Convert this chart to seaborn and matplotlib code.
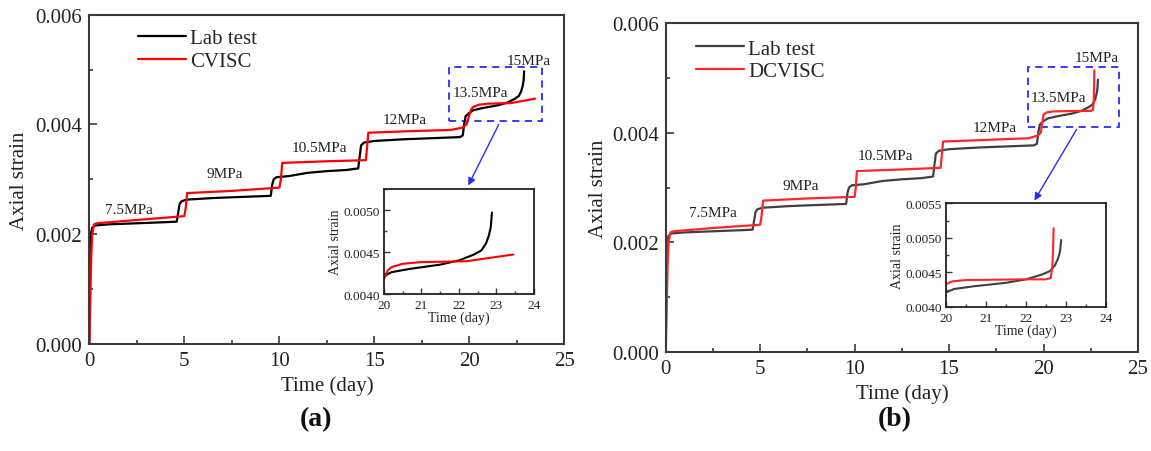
import numpy as np
import pandas as pd
import matplotlib
matplotlib.use("Agg")
import matplotlib.pyplot as plt
import seaborn as sns
from matplotlib.ticker import MultipleLocator, FormatStrFormatter
from matplotlib.patches import Rectangle, FancyArrowPatch

# ---------------- data ----------------
lab_time = [0, 0.02, 0.05, 0.08, 0.15, 0.3, 1.0, 2.5, 4.0, 4.6, 4.68, 4.75, 4.85, 5.1,
            6.5, 8.0, 9.55, 9.62, 9.7, 9.85, 10.5, 11.5, 12.5, 13.5, 14.15, 14.22, 14.3,
            14.45, 15.0, 16.5, 18.0, 19.5, 19.65, 19.72, 19.8, 19.95, 20.2, 20.7, 21.5,
            22.0, 22.4, 22.6, 22.72, 22.8, 22.85, 22.88]
lab_strain = [0, 0.0008, 0.0016, 0.0020, 0.00212, 0.00216, 0.00218, 0.0022, 0.00222,
              0.00223, 0.0024, 0.00255, 0.0026, 0.00263, 0.00266, 0.00268, 0.0027, 0.0029,
              0.0030, 0.00304, 0.00306, 0.00312, 0.00315, 0.00317, 0.0032, 0.0034, 0.00362,
              0.00367, 0.0037, 0.00373, 0.00375, 0.00377, 0.0038, 0.0040, 0.00415, 0.0042,
              0.00426, 0.0043, 0.00435, 0.0044, 0.00447, 0.00452, 0.0046, 0.0047, 0.0048,
              0.00497]

cvisc_time = [0, 0.05, 0.1, 0.15, 0.25, 0.4, 2.5, 5.0, 5.08, 5.15, 7.5, 10.0, 10.08, 10.15,
              12.5, 14.55, 14.62, 14.68, 17.0, 19.0, 19.6, 19.85, 20.0, 20.1, 20.2, 20.5,
              21.0, 22.2, 22.5, 23.45]
cvisc_strain = [0, 0.0008, 0.0016, 0.0020, 0.00218, 0.0022, 0.00226, 0.00233, 0.0025,
                0.00275, 0.00279, 0.00285, 0.0030, 0.0033, 0.00333, 0.00335, 0.0036,
                0.00385, 0.00388, 0.0039, 0.00394, 0.0040, 0.00418, 0.00428, 0.00432,
                0.00436, 0.00438, 0.00439, 0.00441, 0.00447]

dcvisc_time = [0, 0.05, 0.1, 0.15, 0.25, 0.4, 2.5, 5.0, 5.08, 5.15, 7.5, 10.0, 10.06, 10.12,
               12.5, 14.55, 14.62, 14.68, 17.0, 19.2, 19.7, 19.85, 20.0, 20.15, 20.5, 22.0,
               22.5, 22.62, 22.66, 22.68, 22.69]
dcvisc_strain = [0, 0.0008, 0.0016, 0.0020, 0.00218, 0.0022, 0.00226, 0.00232, 0.0025,
                 0.00276, 0.0028, 0.00283, 0.0030, 0.0033, 0.00333, 0.00336, 0.0036,
                 0.00384, 0.00387, 0.0039, 0.00395, 0.0040, 0.00433, 0.00437, 0.00439,
                 0.0044, 0.0044, 0.00442, 0.0046, 0.0049, 0.00514]

stress_labels = ["7.5MPa", "9MPa", "10.5MPa", "12MPa", "13.5MPa", "15MPa"]
series_a = ["Lab test", "CVISC"]
series_b = ["Lab test", "DCVISC"]

# ---------------- style ----------------
sns.set_theme(style="white")
plt.rcParams["font.family"] = ["Liberation Serif", "DejaVu Serif"]

TXT = "#222222"
SPINE = "#3a3a3a"

fig = plt.figure(figsize=(11.51, 4.52), dpi=100)
ax_a = fig.add_axes([0.0776, 0.2367, 0.4128, 0.7285])
ax_b = fig.add_axes([0.5784, 0.2197, 0.4103, 0.7265])
in_a = fig.add_axes([0.3336, 0.3473, 0.1303, 0.2323])
in_b = fig.add_axes([0.8219, 0.3186, 0.1390, 0.2294])

df_lab = pd.DataFrame({"t": lab_time, "s": lab_strain})
df_cv = pd.DataFrame({"t": cvisc_time, "s": cvisc_strain})
df_dcv = pd.DataFrame({"t": dcvisc_time, "s": dcvisc_strain})


def style_main(ax):
    ax.set_xlim(0, 25)
    ax.set_ylim(0, 0.006)
    ax.xaxis.set_major_locator(MultipleLocator(5))
    ax.xaxis.set_minor_locator(MultipleLocator(2.5))
    ax.yaxis.set_major_locator(MultipleLocator(0.002))
    ax.yaxis.set_minor_locator(MultipleLocator(0.001))
    ax.yaxis.set_major_formatter(FormatStrFormatter("%.3f"))
    ax.tick_params(which="both", direction="in", bottom=True, left=True, top=False,
                   right=False, colors=SPINE, labelcolor=TXT, labelsize=15, width=1.2)
    ax.tick_params(which="major", length=6)
    ax.tick_params(which="minor", length=3)
    ax.tick_params(axis="y", pad=5)
    ax.tick_params(axis="x", pad=5)
    for sp in ax.spines.values():
        sp.set_color(SPINE)
        sp.set_linewidth(1.5)
        sp.set_visible(True)
    ax.set_xlabel("Time (day)", fontsize=15, color=TXT, labelpad=4)
    ax.set_ylabel("Axial strain", fontsize=15, color=TXT, labelpad=5)


def style_inset(ax, ylim, ymaj):
    ax.set_xlim(20, 24)
    ax.set_ylim(*ylim)
    ax.xaxis.set_major_locator(MultipleLocator(1))
    ax.xaxis.set_minor_locator(MultipleLocator(0.5))
    ax.yaxis.set_major_locator(MultipleLocator(ymaj))
    ax.yaxis.set_minor_locator(MultipleLocator(ymaj / 2))
    ax.yaxis.set_major_formatter(FormatStrFormatter("%.4f"))
    ax.tick_params(which="both", direction="in", bottom=True, left=True, top=False,
                   right=False, colors=SPINE, labelcolor=TXT, labelsize=9.5, width=1.0)
    ax.tick_params(axis="x", pad=3.5)
    ax.tick_params(axis="y", pad=3)
    ax.tick_params(which="major", length=4)
    ax.tick_params(which="minor", length=2)
    for sp in ax.spines.values():
        sp.set_color("#222222")
        sp.set_linewidth(1.3)
        sp.set_visible(True)
    ax.set_xlabel("Time (day)", fontsize=10, color=TXT, labelpad=0)
    ax.set_ylabel("Axial strain", fontsize=10, color=TXT, labelpad=1)


# ---------------- panel (a) ----------------
sns.lineplot(data=df_lab, x="t", y="s", ax=ax_a, color="#000000", lw=1.6,
             estimator=None, label=series_a[0])
sns.lineplot(data=df_cv, x="t", y="s", ax=ax_a, color="#ff0000", lw=1.6,
             estimator=None, label=series_a[1])
style_main(ax_a)
ax_a.legend(loc="upper left", bbox_to_anchor=(0.1025, 0.957), frameon=False,
            fontsize=15, handlelength=2.3, handletextpad=0.2, labelspacing=0.15,
            borderpad=0, borderaxespad=0)

pos_a = [(2.1, 0.00245), (7.1, 0.0031), (12.1, 0.00358), (16.6, 0.0041),
         (20.6, 0.00458), (23.1, 0.00516)]
for lab, (x, y) in zip(stress_labels, pos_a):
    ax_a.text(x, y, lab, fontsize=11, ha="center", va="center", color=TXT)
ax_a.add_patch(Rectangle((18.9, 0.00407), 4.9, 0.00098, fill=False, ec="#2a2aff",
                         lw=1.3, ls=(0, (4, 3))))

sns.lineplot(data=df_lab, x="t", y="s", ax=in_a, color="#000000", lw=1.5,
             estimator=None, legend=False)
sns.lineplot(data=df_cv, x="t", y="s", ax=in_a, color="#ff0000", lw=1.5,
             estimator=None, legend=False)
style_inset(in_a, (0.0040, 0.00525), 0.0005)

# ---------------- panel (b) ----------------
sns.lineplot(data=df_lab, x="t", y="s", ax=ax_b, color="#404040", lw=1.6,
             estimator=None, label=series_b[0])
sns.lineplot(data=df_dcv, x="t", y="s", ax=ax_b, color="#ff2626", lw=1.6,
             estimator=None, label=series_b[1])
style_main(ax_b)
ax_b.set_ylabel("Axial strain", fontsize=15, color=TXT, labelpad=3)
ax_b.legend(loc="upper left", bbox_to_anchor=(0.064, 0.952), frameon=False,
            fontsize=15, handlelength=2.3, handletextpad=0.2, labelspacing=0.15,
            borderpad=0, borderaxespad=0)

pos_b = [(2.5, 0.00255), (7.15, 0.00303), (11.65, 0.00358), (17.4, 0.0041),
         (20.8, 0.00464), (22.8, 0.00538)]
for lab, (x, y) in zip(stress_labels, pos_b):
    ax_b.text(x, y, lab, fontsize=11, ha="center", va="center", color=TXT)
ax_b.add_patch(Rectangle((19.2, 0.004106), 4.77, 0.001096, fill=False, ec="#2a2aff",
                         lw=1.3, ls=(0, (4, 3))))

sns.lineplot(data=df_lab, x="t", y="s", ax=in_b, color="#404040", lw=1.5,
             estimator=None, legend=False)
sns.lineplot(data=df_dcv, x="t", y="s", ax=in_b, color="#ff2626", lw=1.5,
             estimator=None, legend=False)
style_inset(in_b, (0.0040, 0.0055), 0.0005)

# ---------------- arrows & panel tags ----------------
W, H = 1151.0, 452.0
for (x0, y0), (x1, y1) in [((500, 123), (467, 189)), ((1078, 128), (1033, 204))]:
    fig.add_artist(FancyArrowPatch((x0 / W, 1 - y0 / H), (x1 / W, 1 - y1 / H),
                                   transform=fig.transFigure, arrowstyle="-|>",
                                   mutation_scale=11, color="#2a2aff", lw=1.0))

fig.text(316 / W, 1 - 420 / H, "(a)", fontsize=20, fontweight="bold", ha="center",
         va="center", color="#111111")
fig.text(895 / W, 1 - 420 / H, "(b)", fontsize=20, fontweight="bold", ha="center",
         va="center", color="#111111")

fig.savefig("out.png", dpi=100)
